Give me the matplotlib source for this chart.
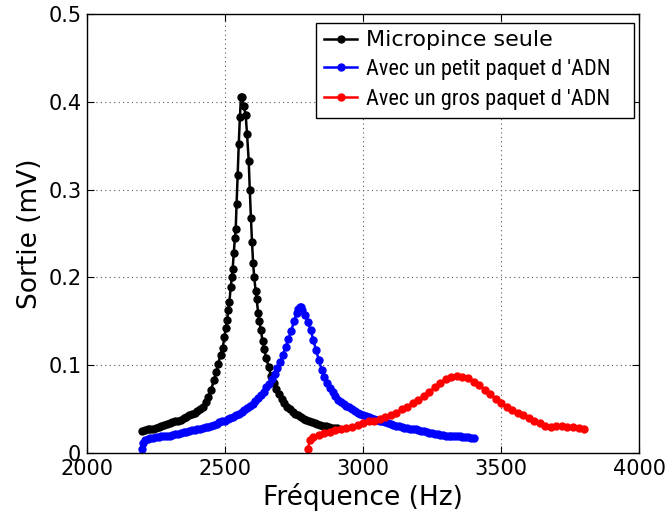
import matplotlib
matplotlib.use('Agg')
import matplotlib.pyplot as plt

# Micropince seule
freq_seule = [2200, 2210, 2220, 2230, 2240, 2250, 2260, 2270, 2280, 2290, 2300, 2310,
              2320, 2330, 2340, 2350, 2360, 2370, 2380, 2390, 2400, 2410, 2420, 2430,
              2440, 2450, 2460, 2468, 2476, 2484, 2492, 2498, 2503, 2508, 2512, 2516,
              2521, 2525, 2528, 2532, 2536, 2539, 2542, 2546, 2550, 2554, 2558, 2562,
              2568, 2575, 2580, 2586, 2590, 2594, 2598, 2602, 2606, 2611, 2615, 2620,
              2625, 2630, 2636, 2642, 2650, 2658, 2667, 2676, 2685, 2695, 2705, 2715,
              2725, 2735, 2745, 2755, 2765, 2775, 2785, 2795, 2805, 2815, 2825, 2835,
              2845, 2855, 2865, 2875, 2885, 2895, 2905]
sortie_seule = [0.025, 0.026, 0.027, 0.028, 0.028, 0.029, 0.030, 0.031, 0.032, 0.033, 0.034, 0.035,
                0.036, 0.037, 0.038, 0.040, 0.041, 0.043, 0.044, 0.046, 0.048, 0.050, 0.053, 0.058,
                0.064, 0.072, 0.083, 0.092, 0.102, 0.112, 0.120, 0.132, 0.142, 0.152, 0.163, 0.172,
                0.189, 0.200, 0.210, 0.228, 0.245, 0.255, 0.283, 0.316, 0.352, 0.382, 0.405, 0.405,
                0.395, 0.385, 0.363, 0.333, 0.299, 0.268, 0.240, 0.216, 0.200, 0.185, 0.175, 0.160,
                0.150, 0.140, 0.128, 0.118, 0.108, 0.098, 0.088, 0.080, 0.073, 0.067, 0.062, 0.057,
                0.053, 0.050, 0.047, 0.045, 0.043, 0.041, 0.039, 0.038, 0.036, 0.035, 0.034, 0.033,
                0.032, 0.031, 0.031, 0.030, 0.029, 0.029, 0.029]

# Avec un petit paquet d'ADN
freq_petit = [2200, 2205, 2210, 2220, 2230, 2240, 2250, 2260, 2270, 2280, 2290, 2300,
              2310, 2320, 2330, 2340, 2350, 2360, 2370, 2380, 2390, 2400, 2410, 2420,
              2430, 2440, 2450, 2460, 2470, 2480, 2490, 2500, 2510, 2520, 2530, 2540,
              2550, 2560, 2570, 2580, 2590, 2600, 2610, 2620, 2630, 2640, 2650, 2660,
              2670, 2680, 2690, 2700, 2710, 2720, 2730, 2740, 2750, 2760, 2765, 2770,
              2775, 2780, 2790, 2800, 2810, 2820, 2830, 2840, 2850, 2860, 2870, 2880,
              2890, 2900, 2910, 2920, 2930, 2940, 2950, 2960, 2970, 2980, 2990, 3000,
              3010, 3020, 3030, 3040, 3050, 3060, 3070, 3080, 3090, 3100, 3110, 3120,
              3130, 3140, 3150, 3160, 3170, 3180, 3190, 3200, 3210, 3220, 3230, 3240,
              3250, 3260, 3270, 3280, 3290, 3300, 3310, 3320, 3330, 3340, 3350, 3360,
              3370, 3380, 3390, 3400]
sortie_petit = [0.005, 0.012, 0.015, 0.016, 0.017, 0.017, 0.018, 0.018, 0.019, 0.019, 0.020, 0.020,
                0.021, 0.022, 0.022, 0.023, 0.024, 0.024, 0.025, 0.026, 0.026, 0.027, 0.028, 0.029,
                0.030, 0.030, 0.031, 0.032, 0.033, 0.035, 0.036, 0.037, 0.039, 0.040, 0.041, 0.043,
                0.045, 0.047, 0.049, 0.051, 0.054, 0.056, 0.059, 0.063, 0.066, 0.070, 0.075, 0.079,
                0.084, 0.090, 0.097, 0.104, 0.112, 0.121, 0.130, 0.139, 0.150, 0.159, 0.164, 0.166,
                0.166, 0.163, 0.157, 0.149, 0.140, 0.129, 0.117, 0.106, 0.095, 0.087, 0.080, 0.074,
                0.069, 0.065, 0.061, 0.058, 0.056, 0.054, 0.052, 0.050, 0.048, 0.046, 0.044, 0.043,
                0.042, 0.041, 0.040, 0.039, 0.038, 0.037, 0.036, 0.035, 0.034, 0.033, 0.032, 0.031,
                0.031, 0.030, 0.029, 0.029, 0.028, 0.027, 0.027, 0.026, 0.025, 0.025, 0.024, 0.023,
                0.023, 0.022, 0.022, 0.021, 0.021, 0.020, 0.020, 0.020, 0.019, 0.019, 0.019, 0.018,
                0.018, 0.018, 0.017, 0.017]

# Avec un gros paquet d'ADN
freq_gros = [2800, 2808, 2820, 2840, 2860, 2880, 2900, 2920, 2940, 2960, 2980, 3000,
             3020, 3040, 3060, 3080, 3100, 3120, 3140, 3160, 3180, 3200, 3220, 3240,
             3260, 3280, 3300, 3320, 3340, 3360, 3380, 3400, 3420, 3440, 3460, 3480,
             3500, 3520, 3540, 3560, 3580, 3600, 3620, 3640, 3660, 3680, 3700, 3720,
             3740, 3760, 3780, 3800]
sortie_gros = [0.005, 0.015, 0.018, 0.021, 0.023, 0.024, 0.026, 0.027, 0.029, 0.030, 0.032, 0.034,
               0.036, 0.037, 0.039, 0.041, 0.043, 0.046, 0.050, 0.053, 0.057, 0.061, 0.065, 0.070,
               0.075, 0.080, 0.084, 0.087, 0.088, 0.087, 0.085, 0.081, 0.077, 0.072, 0.067, 0.062,
               0.057, 0.052, 0.049, 0.046, 0.043, 0.040, 0.037, 0.034, 0.031, 0.030, 0.031, 0.031,
               0.030, 0.030, 0.029, 0.028]

labels = ['Micropince seule', "Avec un petit paquet d 'ADN", "Avec un gros paquet d 'ADN"]

fig = plt.figure(figsize=(6.68, 5.12), dpi=100)
ax = fig.add_axes([0.130, 0.115, 0.827, 0.858])

ax.plot(freq_seule, sortie_seule, '-o', color='k', lw=1.8, ms=5, mec='k', label=labels[0])
ax.plot(freq_petit, sortie_petit, '-o', color='b', lw=1.8, ms=5, mec='b', label=labels[1])
ax.plot(freq_gros, sortie_gros, '-o', color='r', lw=1.8, ms=5, mec='r', label=labels[2])

ax.set_xlim(2000, 4000)
ax.set_ylim(0, 0.5)
ax.set_xticks([2000, 2500, 3000, 3500, 4000])
ax.set_yticks([0, 0.1, 0.2, 0.3, 0.4, 0.5])
ax.set_yticklabels(['0', '0.1', '0.2', '0.3', '0.4', '0.5'])
ax.tick_params(direction='in', length=5, width=0.8, top=True, right=True,
               labelsize=15, pad=4)
ax.grid(True, linestyle=(0, (1, 3)), color='0.35', lw=0.8)
for s in ax.spines.values():
    s.set_linewidth(1.0)

ax.set_xlabel('Fréquence (Hz)', fontsize=19, labelpad=3)
ax.set_ylabel('Sortie (mV)', fontsize=19, labelpad=4)

# legend box stretched to the width it has in the original
leg = ax.legend(loc='upper right', bbox_to_anchor=(0.415, 0.0, 0.576, 0.98),
                mode='expand', borderaxespad=0,
                fontsize=16, numpoints=1, handlelength=1.5,
                fancybox=False, framealpha=1, edgecolor='k',
                labelspacing=0.4, handletextpad=0.4, borderpad=0.35)
leg.get_frame().set_linewidth(1.0)
narrow = ['Roboto Condensed', 'Liberation Sans Narrow', 'PT Sans Narrow',
          'Archivo Narrow', 'DejaVu Sans']
for t in leg.get_texts()[1:]:
    t.set_family(narrow)

fig.savefig('out.png', dpi=100)
